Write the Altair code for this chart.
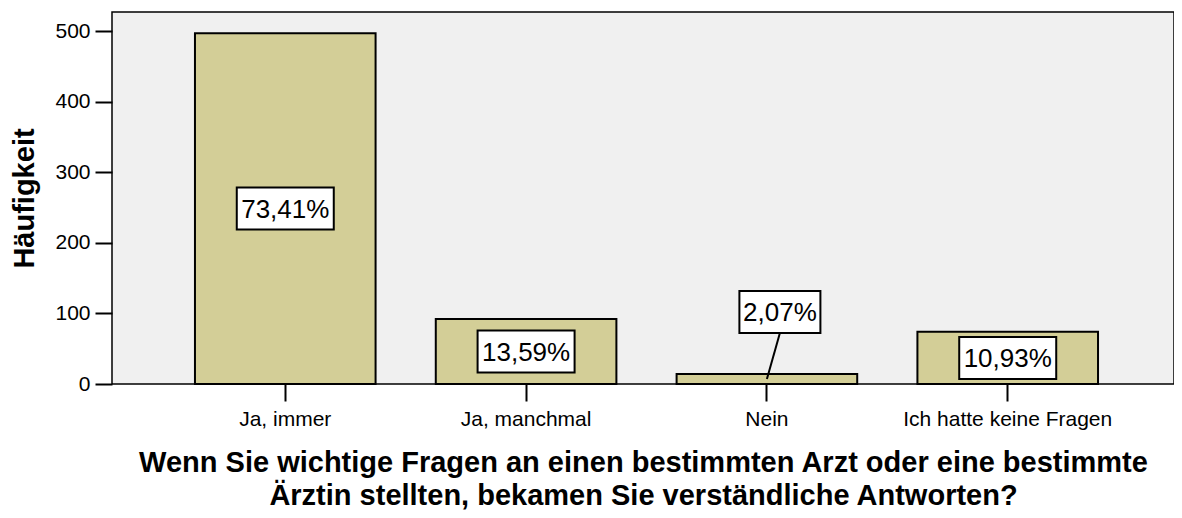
import altair as alt
import pandas as pd

categories = ["Ja, immer", "Ja, manchmal", "Nein", "Ich hatte keine Fragen"]
counts = [497, 92, 14, 74]

x_title = ["Wenn Sie wichtige Fragen an einen bestimmten Arzt oder eine bestimmte",
           "Ärztin stellten, bekamen Sie verständliche Antworten?"]
y_title = "Häufigkeit"
y_ticks = [0, 100, 200, 300, 400, 500]

FONT = "Liberation Sans"
total = sum(counts)
BOX_H = 42
rows = []
for cat, c in zip(categories, counts):
    lab = f"{c / total * 100:.2f}%".replace(".", ",")
    w = 16 * len(lab) + 1
    r = BOX_H / w
    outside = c < 40
    rows.append(dict(cat=cat, count=c, label=lab, mid=c / 2,
                     label_y=102 if outside else c / 2, outside=outside,
                     shape=f"M-1,-{r:.4f}H1V{r:.4f}H-1Z", size=w * w))
df = pd.DataFrame(rows)

x_axis = alt.Axis(title=x_title, titleFontSize=29, titleFontWeight="bold", titleFont=FONT,
                  titleLineHeight=33, titleBaseline="alphabetic", titleY=87, titleColor="black",
                  labelFontSize=21, labelFont=FONT, labelColor="black", labelAngle=0, labelPadding=7,
                  labelLimit=0,
                  tickSize=17, tickWidth=2, tickColor="black", domain=False, grid=False)
y_axis = alt.Axis(title=y_title, titleFontSize=29, titleFontWeight="bold", titleFont=FONT,
                  titleAngle=270, titleX=-79, titleY=186, titleBaseline="alphabetic",
                  titleAlign="center", titleColor="black",
                  values=y_ticks, labelFontSize=21, labelFont=FONT, labelColor="black", labelPadding=5,
                  tickSize=17, tickWidth=2, tickColor="black", domain=False, grid=False)

xs = alt.Scale(paddingInner=0.25, paddingOuter=0.33, align=0.522)
ys = alt.Scale(domain=[0, 527], nice=False)

X = alt.X("cat:N", sort=categories, scale=xs, axis=x_axis)

bars = alt.Chart(df).mark_bar(fill="#d3ce97", stroke="black", strokeWidth=2).encode(
    x=X, y=alt.Y("count:Q", scale=ys, axis=y_axis))

leader = alt.Chart(df).transform_filter("datum.outside").mark_rule(
    color="black", strokeWidth=2, x2Offset=13, y2Offset=21).encode(
    x=X, x2="cat:N",
    y=alt.Y("mid:Q", scale=ys, axis=y_axis), y2="label_y:Q")

def boxes(filt, dx):
    base = alt.Chart(df).transform_filter(filt)
    box = base.mark_point(filled=True, fill="white", stroke="black", strokeWidth=2,
                          opacity=1, fillOpacity=1, xOffset=dx).encode(
        x=X, y=alt.Y("label_y:Q", scale=ys, axis=y_axis),
        shape=alt.Shape("shape:N", scale=None),
        size=alt.Size("size:Q", scale=None))
    txt = base.mark_text(fontSize=26, font=FONT, color="black", baseline="middle",
                         align="center", xOffset=dx, dy=1).encode(
        x=X, y=alt.Y("label_y:Q", scale=ys, axis=y_axis), text="label:N")
    return box + txt

chart = alt.layer(bars, leader, boxes("!datum.outside", 0), boxes("datum.outside", 13)).properties(
    width=1062, height=372,
    autosize=alt.AutoSizeParams(type="none"),
    padding={"left": 104, "top": 4, "right": 0, "bottom": 126},
    background="white",
).configure_view(stroke="black", strokeWidth=1.5, fill="#f0f0f0")

chart.save("out.html", embed_options={"renderer": "svg", "actions": False})
